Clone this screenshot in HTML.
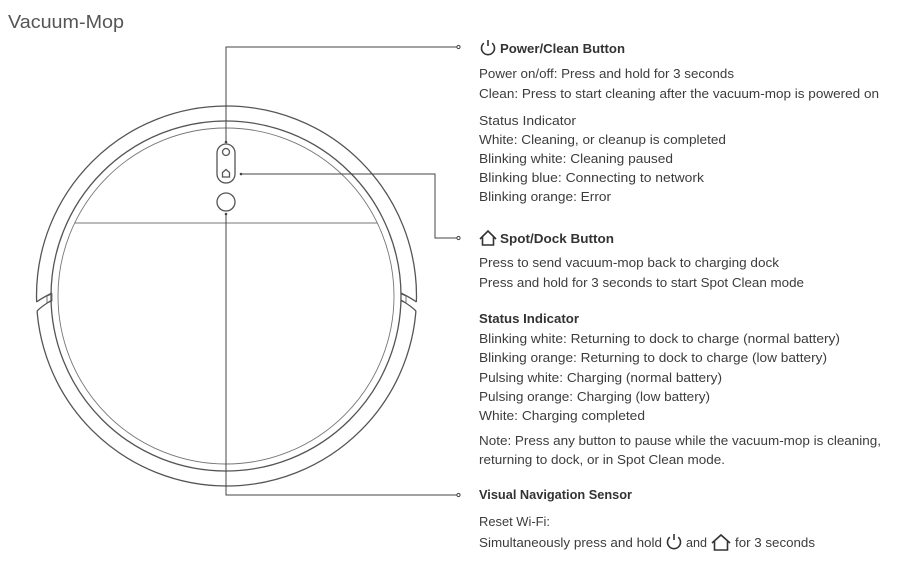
<!DOCTYPE html>
<html><head><meta charset="utf-8"><style>
html,body{margin:0;padding:0;background:#fff;}
svg{display:block;}
text{font-family:"Liberation Sans",sans-serif;fill:#3c3c3c;font-size:13px;}
.b{font-weight:bold;fill:#333;}
</style></head><body>
<svg width="907" height="561" viewBox="0 0 907 561" xmlns="http://www.w3.org/2000/svg">
<defs>
<mask id="m">
<rect x="0" y="0" width="907" height="561" fill="#fff"/>
<rect x="20" y="302" width="30" height="9" fill="#000"/>
<rect x="403" y="302" width="30" height="9" fill="#000"/>
</mask>
</defs>
<text x="8" y="28" style="font-size:18px;fill:#555" textLength="116" lengthAdjust="spacingAndGlyphs">Vacuum-Mop</text>
<g fill="none" stroke="#555" stroke-width="1.3">
  <circle cx="226.5" cy="296" r="190" mask="url(#m)"/>
  <path d="M36.5 302 Q42 298 52 293"/>
  <path d="M37 311 Q42 306 52 300"/>
  <path d="M416.5 302 Q411 298 401 293"/>
  <path d="M416 311 Q411 306 401 300"/>
  <path d="M47 296 L52 294 L52 301 L47 303 Z" stroke-width="0.8"/>
  <path d="M406 296 L401 294 L401 301 L406 303 Z" stroke-width="0.8"/>
  <circle cx="226" cy="296" r="175"/>
  <circle cx="226" cy="296" r="168" stroke-width="0.9" stroke="#777"/>
  <line x1="75" y1="223" x2="377" y2="223" stroke-width="0.9" stroke="#777"/>
  <rect x="217" y="144" width="18" height="39" rx="9"/>
  <circle cx="226" cy="152" r="3.5"/>
  <path d="M222.5 177 L222.5 172.5 L226 169.5 L229.5 172.5 L229.5 177 Z"/>
  <circle cx="226" cy="202" r="9"/>
</g>
<g fill="none" stroke="#444" stroke-width="1">
  <polyline points="226,142 226,47 457,47"/>
  <polyline points="241,174 435,174 435,238 457,238"/>
  <polyline points="226,214 226,495 457,495"/>
  <circle cx="458.5" cy="47" r="1.6"/>
  <circle cx="458.5" cy="238" r="1.6"/>
  <circle cx="458.5" cy="495" r="1.6"/>
</g>
<g fill="#444"><circle cx="226" cy="142" r="1.3"/><circle cx="241" cy="174" r="1.3"/><circle cx="226" cy="214" r="1.3"/></g>
<g fill="none" stroke="#333" stroke-width="1.6">
  <path d="M492.2 43.2 A6.5 6.5 0 1 1 483.8 43.2"/><line x1="488" y1="40" x2="488" y2="46"/>
  <path d="M480 239 L488 231 L496 239 M482.5 236.5 V245 H493.5 V236.5"/>
  <path d="M678.2 537.2 A6.5 6.5 0 1 1 669.8 537.2"/><line x1="674" y1="534" x2="674" y2="540"/>
  <path d="M712 543 L721 535 L730 543 M714.5 540.5 V550 H727.5 V540.5"/>
</g>
<text x="500" y="53" class="b" textLength="125" lengthAdjust="spacingAndGlyphs">Power/Clean Button</text>
<text x="479" y="78" textLength="255" lengthAdjust="spacingAndGlyphs">Power on/off: Press and hold for 3 seconds</text>
<text x="479" y="98" textLength="400" lengthAdjust="spacingAndGlyphs">Clean: Press to start cleaning after the vacuum-mop is powered on</text>
<text x="479" y="125" textLength="97" lengthAdjust="spacingAndGlyphs">Status Indicator</text>
<text x="479" y="144" textLength="247" lengthAdjust="spacingAndGlyphs">White:  Cleaning, or cleanup is completed</text>
<text x="479" y="163" textLength="194" lengthAdjust="spacingAndGlyphs">Blinking white:  Cleaning paused</text>
<text x="479" y="182" textLength="225" lengthAdjust="spacingAndGlyphs">Blinking blue:  Connecting to network</text>
<text x="479" y="201" textLength="132" lengthAdjust="spacingAndGlyphs">Blinking orange:  Error</text>
<text x="500" y="243" class="b" textLength="114" lengthAdjust="spacingAndGlyphs">Spot/Dock Button</text>
<text x="479" y="267" textLength="300" lengthAdjust="spacingAndGlyphs">Press to send vacuum-mop back to charging dock</text>
<text x="479" y="287" textLength="325" lengthAdjust="spacingAndGlyphs">Press and hold for 3 seconds to start Spot Clean mode</text>
<text x="479" y="323" class="b" textLength="100" lengthAdjust="spacingAndGlyphs">Status Indicator</text>
<text x="479" y="343" textLength="361" lengthAdjust="spacingAndGlyphs">Blinking white:  Returning to dock to charge (normal battery)</text>
<text x="479" y="362" textLength="348" lengthAdjust="spacingAndGlyphs">Blinking orange:  Returning to dock to charge (low battery)</text>
<text x="479" y="382" textLength="243" lengthAdjust="spacingAndGlyphs">Pulsing white:  Charging (normal battery)</text>
<text x="479" y="401" textLength="231" lengthAdjust="spacingAndGlyphs">Pulsing orange:  Charging (low battery)</text>
<text x="479" y="420" textLength="166" lengthAdjust="spacingAndGlyphs">White:  Charging completed</text>
<text x="479" y="445" textLength="402" lengthAdjust="spacingAndGlyphs">Note: Press any button to pause while the vacuum-mop is cleaning,</text>
<text x="479" y="464" textLength="246" lengthAdjust="spacingAndGlyphs">returning to dock, or in Spot Clean mode.</text>
<text x="479" y="499" class="b" textLength="153" lengthAdjust="spacingAndGlyphs">Visual Navigation Sensor</text>
<text x="479" y="526" textLength="71" lengthAdjust="spacingAndGlyphs">Reset Wi-Fi:</text>
<text x="479" y="547" textLength="183" lengthAdjust="spacingAndGlyphs">Simultaneously press and hold</text>
<text x="686" y="547" textLength="21" lengthAdjust="spacingAndGlyphs">and</text>
<text x="735" y="547" textLength="80" lengthAdjust="spacingAndGlyphs">for 3 seconds</text>
</svg>
</body></html>
